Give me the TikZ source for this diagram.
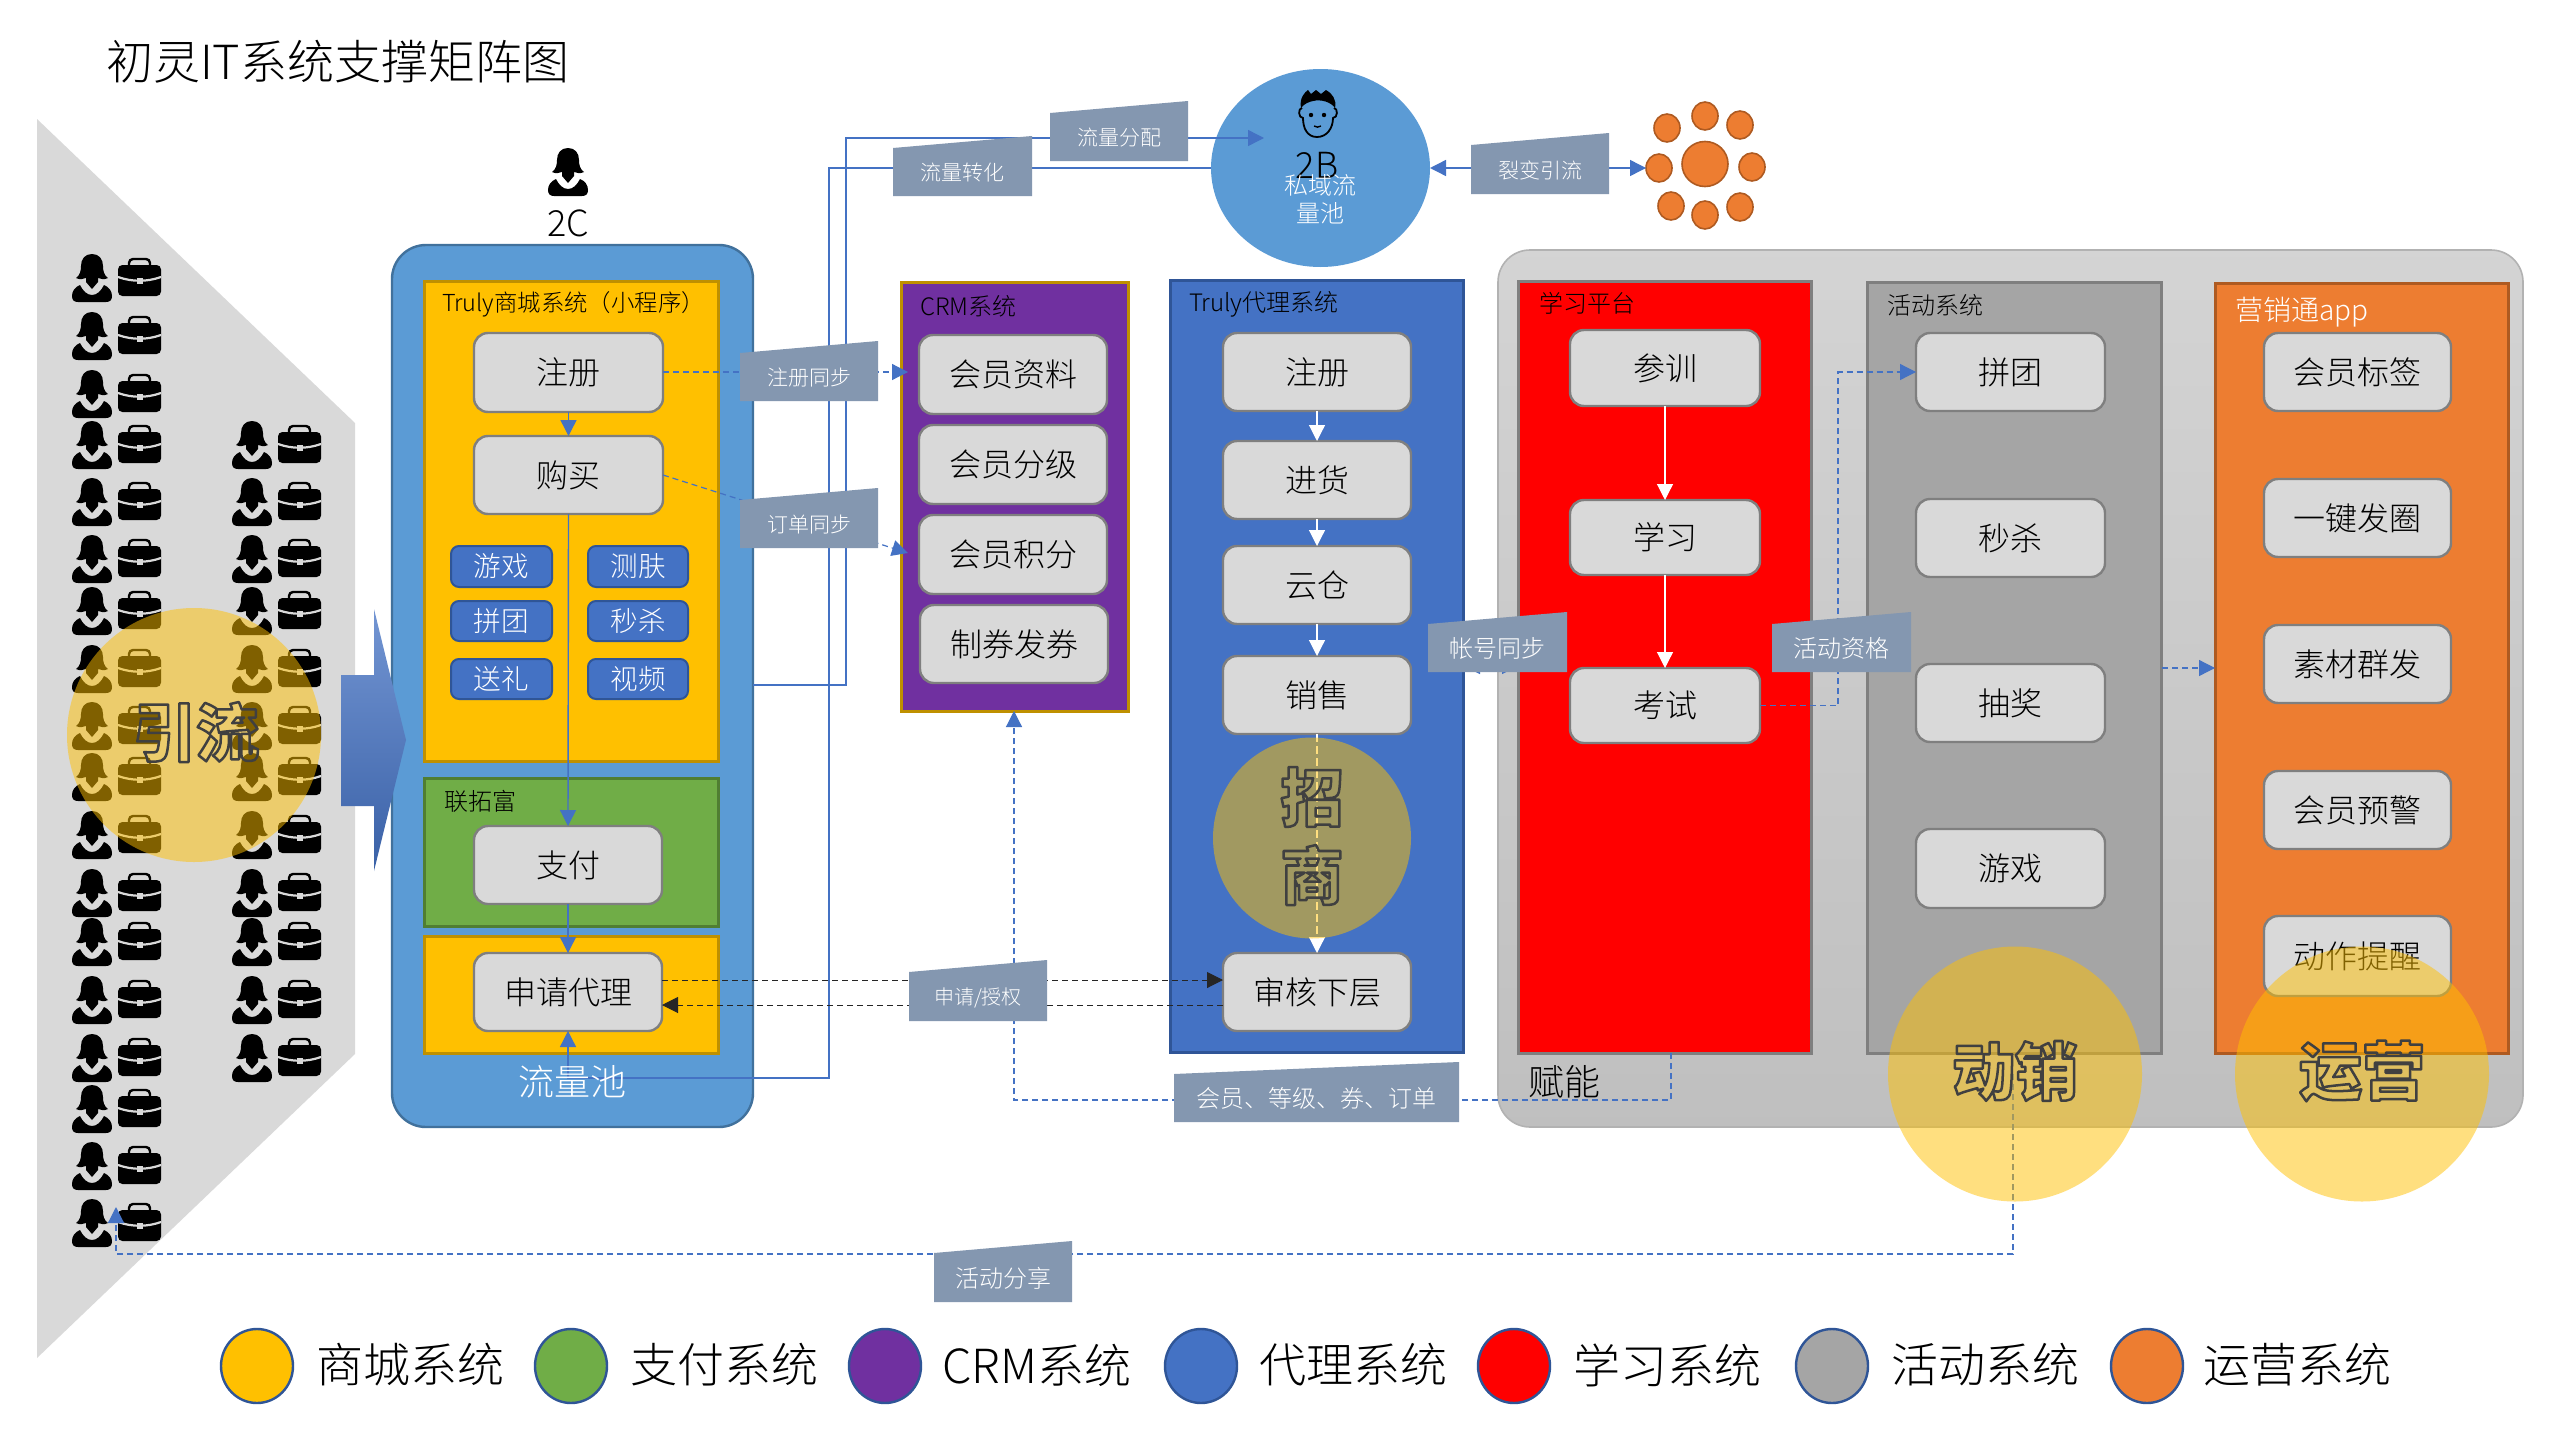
\documentclass[tikz,border=0pt]{standalone}
\usepackage{fontspec}
\setmainfont{Noto Sans CJK SC Light}[BoldFont=Noto Sans CJK SC Bold]
\newfontfamily\bubfont{Noto Sans CJK SC Black}
\usetikzlibrary{arrows.meta,shapes.geometric}
\definecolor{cYel}{HTML}{FFC000}\definecolor{cYelB}{HTML}{BF9000}
\definecolor{cGrn}{HTML}{70AD47}\definecolor{cGrnB}{HTML}{507E32}
\definecolor{cPur}{HTML}{7030A0}
\definecolor{cBlu}{HTML}{4472C4}\definecolor{cBluB}{HTML}{2F5597}
\definecolor{cSky}{HTML}{5B9BD5}\definecolor{cSkyB}{HTML}{41719C}
\definecolor{cGry}{HTML}{A5A5A5}\definecolor{cGryB}{HTML}{7F7F7F}
\definecolor{cOrg}{HTML}{ED7D31}\definecolor{cOrgB}{HTML}{AE5A21}
\definecolor{cBtn}{HTML}{D9D9D9}\definecolor{cTag}{HTML}{8497B0}
\definecolor{cLine}{HTML}{4472C4}
\newcommand{\OUTL}[1]{\special{pdf:code 1 Tr 1 j 1.25 w 0.25 0.25 0.25 RG}\fontsize{31.5}{36}\bubfont #1\special{pdf:code 0 Tr}}
\tikzset{
 f20/.style={font=\fontsize{10}{12}\selectfont},
 f21/.style={font=\fontsize{10.5}{13}\selectfont},
 f24/.style={font=\fontsize{12}{15}\selectfont},
 f28/.style={font=\fontsize{14}{17}\selectfont},
 f32/.style={font=\fontsize{16}{19}\selectfont},
 f36/.style={font=\fontsize{18}{22}\selectfont},
 f48/.style={font=\fontsize{23.5}{28}\selectfont},
 boxbase/.style={rectangle,inner sep=0pt,outer sep=0pt},
 btn/.style={boxbase,rounded corners=7pt,fill=cBtn,draw=cGryB,line width=1.2pt,f32,text=black},
 mini/.style={boxbase,rounded corners=4pt,fill=cBlu,draw=cBluB,line width=1pt,font=\fontsize{13.8}{17}\selectfont,text=white},
 sysbox/.style={boxbase,line width=1.5pt},
 lbl/.style={inner sep=0pt,outer sep=0pt},
 lnk/.style={draw=cLine,line width=.7pt},
 dsh/.style={draw=cLine,line width=.6pt,dash pattern=on 3pt off 2pt},
 blk/.style={draw=black!85,line width=.5pt,dash pattern=on 3pt off 2pt},
 hdB/.style={-{Triangle[length=8pt,width=8pt,color=cLine]}},
 hdBB/.style={{Triangle[length=8pt,width=8pt,color=cLine]}-{Triangle[length=8pt,width=8pt,color=cLine]}},
 hdW/.style={-{Triangle[length=8pt,width=8pt,color=white]}},
 hdK/.style={-{Triangle[length=8pt,width=8pt,color=black!85]}},
 spot/.style={ellipse,inner sep=0pt,outer sep=0pt,fill=cYel,fill opacity=.5},
 swatch/.style={ellipse,inner sep=0pt,outer sep=0pt,minimum width=36pt,minimum height=37pt,draw=cBluB,line width=1.2pt},
 petal/.style={ellipse,inner sep=0pt,outer sep=0pt,minimum width=13pt,minimum height=14pt,fill=cOrg,draw=cOrgB,line width=.8pt},
 person/.pic={
  \fill[black] (20,0) .. controls (27,0) and (31,5) .. (31,12) .. controls (31,17) and (32,21) .. (36,24)
    .. controls (32,26) and (29,25) .. (26,24) -- (26,28) -- (20,35) -- (14,28) -- (14,24)
    .. controls (11,25) and (8,26) .. (4,24) .. controls (8,21) and (9,17) .. (9,12) .. controls (9,5) and (13,0) .. (20,0) -- cycle;
  \fill[black] (8,31) .. controls (3,33) and (0,37) .. (0,42) .. controls (0,46) and (2,48) .. (6,48) -- (34,48)
    .. controls (38,48) and (40,46) .. (40,42) .. controls (40,37) and (37,33) .. (32,31)
    .. controls (29,37) and (25,41) .. (20,41) .. controls (15,41) and (11,37) .. (8,31) -- cycle;
 },
 brief/.pic={
  \fill[black,rounded corners=2.2pt] (0,8) rectangle (43,39);
  \draw[black,line width=1.2pt,rounded corners=2pt] (11,9) -- (11,2) -- (32,2) -- (32,9);
  \draw[cBtn,line width=1.1pt] (0,20) .. controls (14,25) and (29,25) .. (43,20);
  \fill[cBtn] (18.5,20.5) rectangle (24.5,26.5);
 },
 headicon/.pic={
  \draw[black,line width=.9pt,fill=none] (18,47) .. controls (8,47) and (4,38) .. (4,28) .. controls (-1,28) and (-1,18) .. (3,18)
    (35,18) .. controls (39,18) and (39,28) .. (34,28) .. controls (34,38) and (28,47) .. (18,47);
  \fill[black] (2,18) .. controls (0,8) and (6,2) .. (9,0) -- (12,4) -- (17,0) -- (22,4) -- (27,0) .. controls (33,3) and (38,10) .. (36,18)
    .. controls (32,12) and (22,9) .. (14,11) .. controls (10,12) and (6,13) .. (2,18) -- cycle;
  \fill[black] (12,25) circle (2.2) (25,25) circle (2.2);
  \draw[black,line width=.7pt] (15,36) .. controls (17,37.5) and (20,37.5) .. (22,36);
 },
}
\newcommand{\RBOX}[7]{%
 \pgfmathsetmacro\rcx{(#3+#5)/2}\pgfmathsetmacro\rcy{(#4+#6)/2}%
 \pgfmathsetmacro\rw{(#5-#3)/2}\pgfmathsetmacro\rh{(#6-#4)/2}%
 \node[#1,minimum width=\rw pt,minimum height=\rh pt] (#2) at (\rcx,\rcy) {#7};}
\newcommand{\TAG}[8]{%
 \fill[cTag] (#2,#4) -- (#3,#5) -- (#3,#6) -- (#2,#6) -- cycle;
 \pgfmathsetmacro\rcx{(#2+#3)/2}\pgfmathsetmacro\rcy{#6-23.5}%
 \node[lbl,#7,text=white] (#1) at (\rcx,\rcy) {#8};}
\begin{document}
\begin{tikzpicture}[x=.5pt,y=-.5pt]
\useasboundingbox (0,0) rectangle (2560,1440);
\fill[white] (0,0) rectangle (2560,1440);
\node[lbl,f48,anchor=west] (title) at (106,62) {初灵IT系统支撑矩阵图};
\fill[cBtn] (37,119) -- (355,423) -- (355,1054) -- (37,1358) -- cycle;
\foreach \yy in {254,312,370,421,478,535,587,645,702,753,811,869,918,976,1034,1085,1142,1199}{
 \pic at (72,\yy) {person}; \pic at (118,\yy+3) {brief};}
\foreach \yy in {421,478,535,587,645,702,753,811,869,918,976,1034}{
 \pic at (232,\yy) {person}; \pic at (278,\yy+3) {brief};}
\pic at (548,148) {person};
\node[lbl,f36] (lab2c) at (568,223) {2C};
\RBOX{boxbase,rounded corners=17pt,fill=cSky,draw=cSkyB,line width=1.2pt}{pool}{392}{245}{753}{1127}{}
\RBOX{sysbox,fill=cYel,draw=cYelB}{shop}{424}{281}{718}{761}{}
\RBOX{sysbox,fill=cGrn,draw=cGrnB}{pay}{424}{778}{718}{926}{}
\RBOX{sysbox,fill=cYel,draw=cYelB}{shopb}{424}{936}{718}{1053}{}
\shade[top color=cBlu!75!white,bottom color=cBlu!85!black]
  (341,675) -- (374,675) -- (374,609) -- (406,740) -- (374,871) -- (374,806) -- (341,806) -- cycle;
\RBOX{boxbase,rounded corners=16pt,top color=black!17,bottom color=black!25,draw=black!30,line width=.8pt}{panel}{1498}{250}{2523}{1127}{}
\RBOX{sysbox,fill=cPur,draw=cYelB}{crm}{901}{282}{1128}{711}{}
\RBOX{sysbox,fill=cBlu,draw=cBluB}{agent}{1170}{280}{1463}{1052}{}
\RBOX{sysbox,fill=red,draw=cGryB}{learn}{1518}{281}{1811}{1053}{}
\RBOX{sysbox,fill=cGry,draw=cGryB}{act}{1867}{282}{2161}{1053}{}
\RBOX{sysbox,fill=cOrg,draw=cOrgB}{mkt}{2215}{283}{2508}{1053}{}
\node[ellipse,inner sep=0pt,outer sep=0pt,fill=cSky,minimum width=109.5pt,minimum height=99pt] (b2) at (1320.5,168) {};
\node[ellipse,inner sep=0pt,outer sep=0pt,minimum width=23pt,minimum height=22.5pt,fill=cOrg,draw=cOrgB,line width=.8pt] (hub) at (1705,164) {};
\node[petal] (p1) at (1667,128) {};
\node[petal] (p2) at (1705,116) {};
\node[petal] (p3) at (1740,125) {};
\node[petal] (p4) at (1659,168) {};
\node[petal] (p5) at (1752,167) {};
\node[petal] (p6) at (1671,206) {};
\node[petal] (p7) at (1705,215) {};
\node[petal] (p8) at (1740,207) {};
\node[lbl,font=\fontsize{11.7}{15}\selectfont,anchor=west] (tshop) at (442,304) {Truly商城系统（小程序）};
\node[lbl,f24,anchor=west] (tpay) at (444,801) {联拓富};
\node[lbl,f24,anchor=west] (tcrm) at (920,306) {CRM系统};
\node[lbl,f24,anchor=west] (tagent) at (1189,304) {Truly代理系统};
\node[lbl,f24,anchor=west] (tlearn) at (1539,303) {学习平台};
\node[lbl,f24,anchor=west] (tact) at (1887,305) {活动系统};
\node[lbl,f28,anchor=west,text=white] (tmkt) at (2235,312) {营销通app};
\node[lbl,f36,anchor=west] (tfn) at (1528,1082) {赋能};
\RBOX{btn}{a1}{474}{333}{663}{412}{注册}
\RBOX{btn}{a2}{474}{436}{663}{514}{购买}
\RBOX{mini}{m1}{451}{546}{552}{587}{游戏}
\RBOX{mini}{m2}{588}{546}{688}{587}{测肤}
\RBOX{mini}{m3}{451}{601}{552}{641}{拼团}
\RBOX{mini}{m4}{588}{601}{688}{641}{秒杀}
\RBOX{mini}{m5}{451}{659}{552}{699}{送礼}
\RBOX{mini}{m6}{588}{659}{688}{699}{视频}
\RBOX{btn}{a3}{474}{826}{662}{904}{支付}
\RBOX{btn}{a4}{474}{953}{662}{1031}{申请代理}
\RBOX{btn}{h1}{919}{335}{1107}{414}{会员资料}
\RBOX{btn}{h2}{919}{425}{1107}{504}{会员分级}
\RBOX{btn}{h3}{919}{515}{1107}{594}{会员积分}
\RBOX{btn}{h4}{920}{605}{1108}{683}{制券发券}
\RBOX{btn}{g1}{1223}{333}{1411}{411}{注册}
\RBOX{btn}{g2}{1223}{441}{1411}{519}{进货}
\RBOX{btn}{g3}{1223}{546}{1411}{624}{云仓}
\RBOX{btn}{g4}{1223}{656}{1411}{734}{销售}
\RBOX{btn}{g5}{1223}{953}{1411}{1031}{审核下层}
\RBOX{btn}{l1}{1570}{330}{1760}{406}{参训}
\RBOX{btn}{l2}{1570}{500}{1760}{575}{学习}
\RBOX{btn}{l3}{1570}{668}{1760}{743}{考试}
\RBOX{btn}{c1}{1916}{333}{2105}{411}{拼团}
\RBOX{btn}{c2}{1916}{499}{2105}{577}{秒杀}
\RBOX{btn}{c3}{1916}{664}{2105}{742}{抽奖}
\RBOX{btn}{c4}{1916}{829}{2105}{908}{游戏}
\RBOX{btn}{k1}{2264}{333}{2451}{411}{会员标签}
\RBOX{btn}{k2}{2264}{479}{2451}{557}{一键发圈}
\RBOX{btn}{k3}{2264}{625}{2451}{703}{素材群发}
\RBOX{btn}{k4}{2264}{771}{2451}{849}{会员预警}
\RBOX{btn}{k5}{2264}{916}{2451}{996}{动作提醒}
\coordinate (crmA) at (908,372);
\coordinate (crmB) at (908,553);
\coordinate (poolA) at (753,685);
\coordinate (u1) at (846,685);
\coordinate (u2) at (846,138);
\coordinate (b2in) at (1264,138);
\coordinate (v1) at (829,168);
\coordinate (v2) at (829,1078);
\coordinate (v3) at (568,1078);
\coordinate (q1) at (2013,1074);
\coordinate (q2) at (2013,1254);
\coordinate (q3) at (116,1254);
\coordinate (q4) at (116,1207);
\coordinate (w1) at (1671,1053);
\coordinate (w2) at (1671,1100);
\coordinate (w3) at (1014,1100);
\coordinate (s1) at (1838,705);
\coordinate (s2) at (1838,372);
\coordinate (r1) at (1464,666);
\coordinate (r2) at (1518,666);
\coordinate (acA) at (2162,668);
\coordinate (acB) at (2215,668);
\draw[lnk,hdB] (a1.south) -- (a2.north);
\draw[lnk,hdB] (a2.south) -- (a3.north);
\draw[lnk,hdB] (a3.south) -- (a4.north);
\draw[dsh,hdB] (a1.east |- crmA) -- (crmA);
\draw[dsh,hdB] (a2.east) -- (crmB);
\draw[lnk,hdB] (poolA) -- (u1) -- (u2) -- (b2in);
\draw[lnk,hdB] (b2.west |- v1) -- (v1) -- (v2) -- (v3) -- (a4.south);
\draw[lnk,hdBB] (1430,168) -- (p4.west);
\draw[blk,hdK] (a4.east |- 0,980) -- (g5.west |- 0,980);
\draw[blk,hdK] (g5.west |- 0,1005) -- (a4.east |- 0,1005);
\draw[white,line width=.6pt,hdW] (g1.south) -- (g2.north);
\draw[white,line width=.6pt,hdW] (g2.south) -- (g3.north);
\draw[white,line width=.6pt,hdW] (g3.south) -- (g4.north);
\draw[white,line width=.6pt,dash pattern=on 4pt off 2pt,hdW] (g4.south) -- (g5.north);
\draw[white,line width=.6pt,hdW] (l1.south) -- (l2.north);
\draw[white,line width=.6pt,hdW] (l2.south) -- (l3.north);
\draw[dsh,hdB] (l3.east) -- (l3.east -| s1) -- (s2) -- (c1.west |- s2);
\draw[dsh,hdB] (acA) -- (acB);
\draw[dsh,hdB] (w1) -- (w2) -- (w3) -- (crm.south -| w3);
\draw[dsh,hdB] (q1) -- (q2) -- (q3) -- (q4);
\draw[lnk,hdBB] (r1) -- (r2);
\TAG{t1}{1050}{1188}{113}{101}{161}{f21}{流量分配}
\TAG{t2}{893}{1032}{148}{136}{196}{f21}{流量转化}
\TAG{t3}{1471}{1609}{145}{133}{194}{f21}{裂变引流}
\TAG{t4}{740}{878}{353}{341}{401}{f21}{注册同步}
\TAG{t5}{740}{878}{500}{488}{548}{f21}{订单同步}
\TAG{t6}{1428}{1567}{624}{612}{672}{f24}{帐号同步}
\TAG{t7}{1772}{1911}{624}{612}{672}{f24}{活动资格}
\TAG{t8}{909}{1047}{972}{960}{1021}{f20}{申请/授权}
\TAG{t9}{934}{1072}{1253}{1241}{1302}{f24}{活动分享}
\TAG{t10}{1174}{1459}{1074}{1062}{1122}{f24}{会员、等级、券、订单}
\node[lbl,f36,text=white] (tpool2) at (572,1082) {流量池};
\pic at (1299,90) {headicon};
\node[lbl,f36] (t2b) at (1317,165) {2B};
\node[lbl,f24,text=white] (tb1) at (1320,185) {私域流};
\node[lbl,f24,text=white] (tb2) at (1320,213) {量池};
\node[swatch,fill=cYel] (s1a) at (257,1366) {};
\node[lbl,f48] (s1t) at (410,1365) {商城系统};
\node[swatch,fill=cGrn] (s2a) at (571,1366) {};
\node[lbl,f48] (s2t) at (724,1365) {支付系统};
\node[swatch,fill=cPur] (s3a) at (885,1366) {};
\node[lbl,f48] (s3t) at (1037,1365) {CRM系统};
\node[swatch,fill=cBlu] (s4a) at (1201,1366) {};
\node[lbl,f48] (s4t) at (1353,1365) {代理系统};
\node[swatch,fill=red] (s5a) at (1514,1366) {};
\node[lbl,f48] (s5t) at (1667,1365) {学习系统};
\node[swatch,fill=cGry] (s6a) at (1832,1366) {};
\node[lbl,f48] (s6t) at (1985,1365) {活动系统};
\node[swatch,fill=cOrg] (s7a) at (2147,1366) {};
\node[lbl,f48] (s7t) at (2297,1365) {运营系统};
\node[spot,minimum width=127pt,minimum height=127pt] (y1) at (194,735) {};
\node[spot,minimum width=99pt,minimum height=100.5pt] (y2) at (1312,838) {};
\node[spot,minimum width=127pt,minimum height=127.5pt] (y3) at (2015,1074) {};
\node[spot,minimum width=127pt,minimum height=127.5pt] (y4) at (2362,1074) {};
\node[lbl] (n1) at (196,732) {\OUTL{引流}};
\node[lbl] (n2) at (1312,797) {\OUTL{招}};
\node[lbl] (n3) at (1312,875) {\OUTL{商}};
\node[lbl] (n4) at (2015,1071) {\OUTL{动销}};
\node[lbl] (n5) at (2362,1071) {\OUTL{运营}};
\end{tikzpicture}
\end{document}
